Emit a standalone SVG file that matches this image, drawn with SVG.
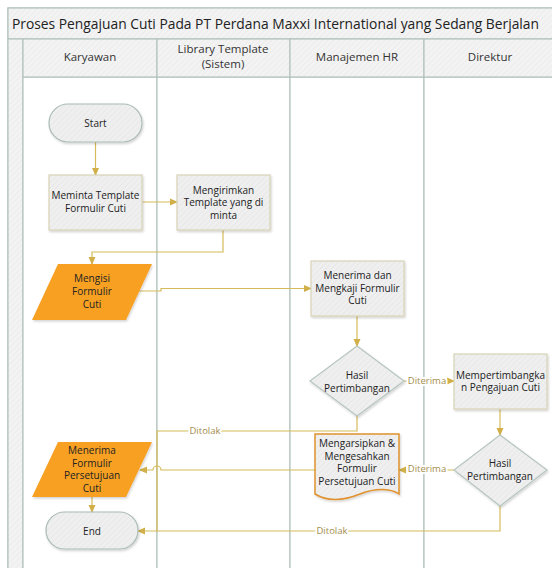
<svg xmlns="http://www.w3.org/2000/svg" width="552" height="568" viewBox="0 0 552 568">
  <defs>
    <pattern id="hatch" width="4" height="4" patternUnits="userSpaceOnUse" patternTransform="rotate(45)">
      <rect width="4" height="4" fill="#efefef"/>
      <line x1="0" y1="0" x2="0" y2="4" stroke="#e4e4e4" stroke-width="1.2"/>
    </pattern>
    <pattern id="hatchLight" width="4" height="4" patternUnits="userSpaceOnUse" patternTransform="rotate(45)">
      <rect width="4" height="4" fill="#f3f3f3"/>
      <line x1="0" y1="0" x2="0" y2="4" stroke="#e8e8e8" stroke-width="1.2"/>
    </pattern>
    <filter id="shadow" x="-10%" y="-10%" width="130%" height="130%">
      <feDropShadow dx="1" dy="1.5" stdDeviation="1" flood-color="#000" flood-opacity="0.18"/>
    </filter>
    <marker id="arrow" viewBox="0 0 8 8" refX="7" refY="4" markerWidth="8" markerHeight="8" markerUnits="userSpaceOnUse" orient="auto">
      <path d="M0,0.5 L8,4 L0,7.5 Z" fill="#d1b04a"/>
    </marker>
    <style>
      .lane { fill: #ffffff; stroke: #b3c4bc; stroke-width: 1.2; }
      .head { fill: url(#hatchLight); stroke: #b3c4bc; stroke-width: 1.2; }
      .title { font-family: "Open Sans", "Noto Sans", sans-serif; font-size: 14px; fill: #222; }
      .htext { font-family: "Open Sans", "Noto Sans", sans-serif; font-size: 11.5px; fill: #333; text-anchor: middle; }
      .box { fill: url(#hatch); stroke: #d8d2b6; stroke-width: 1.2; filter: url(#shadow); }
      .term { fill: url(#hatch); stroke: #aabcb4; stroke-width: 1.2; filter: url(#shadow); }
      .dia { fill: url(#hatch); stroke: #b6c6bf; stroke-width: 1.2; filter: url(#shadow); }
      .io { fill: #f7a024; stroke: none; filter: url(#shadow); }
      .doc { fill: url(#hatch); stroke: #e0922e; stroke-width: 1.5; filter: url(#shadow); }
      .ntext { font-family: "Open Sans", "Noto Sans", sans-serif; font-size: 10px; fill: #222; text-anchor: middle; }
      .conn { fill: none; stroke: #d6bb5a; stroke-width: 1.2; }
      .lbl { font-family: "Open Sans", "Noto Sans", sans-serif; font-size: 9.5px; fill: #a38d4c; text-anchor: middle; dominant-baseline: middle; stroke: #ffffff; stroke-width: 4; paint-order: stroke; }
    </style>
  </defs>

  <!-- pool frame -->
  <g id="pool">
    <rect x="8" y="8" width="560" height="570" fill="#ffffff" stroke="#b3c4bc" stroke-width="1.2"/>
    <rect x="8" y="8" width="560" height="31" class="head"/>
    <text x="12" y="28.5" class="title" textLength="527" lengthAdjust="spacingAndGlyphs">Proses Pengajuan Cuti Pada PT Perdana Maxxi International yang Sedang Berjalan</text>
    <rect x="8" y="39" width="15" height="540" class="head"/>
  </g>

  <!-- lanes -->
  <g id="lane-karyawan">
    <rect x="23" y="77" width="134" height="500" class="lane"/>
    <rect x="23" y="39" width="134" height="38" class="head"/>
    <text x="90" y="61" class="htext">Karyawan</text>
  </g>
  <g id="lane-library">
    <rect x="157" y="77" width="133" height="500" class="lane"/>
    <rect x="157" y="39" width="133" height="38" class="head"/>
    <text x="223" y="53" class="htext">Library Template</text>
    <text x="223" y="68" class="htext">(Sistem)</text>
  </g>
  <g id="lane-hr">
    <rect x="290" y="77" width="134" height="500" class="lane"/>
    <rect x="290" y="39" width="134" height="38" class="head"/>
    <text x="357" y="61" class="htext">Manajemen HR</text>
  </g>
  <g id="lane-direktur">
    <rect x="424" y="77" width="144" height="500" class="lane"/>
    <rect x="424" y="39" width="144" height="38" class="head"/>
    <text x="490" y="61" class="htext">Direktur</text>
  </g>

  <!-- connectors -->
  <g id="connectors">
    <path class="conn" d="M95.5,142 V175" marker-end="url(#arrow)"/>
    <path class="conn" d="M142,202 H177" marker-end="url(#arrow)"/>
    <path class="conn" d="M223,230 V252 H92 V264" marker-end="url(#arrow)"/>
    <path class="conn" d="M139,291 H161 V288.5 H311" marker-end="url(#arrow)"/>
    <path class="conn" d="M357,316 V346" marker-end="url(#arrow)"/>
    <path class="conn" d="M404,381 H454" marker-end="url(#arrow)"/>
    <path class="conn" d="M500,409 V435" marker-end="url(#arrow)"/>
    <path class="conn" d="M454,470 H399" marker-end="url(#arrow)"/>
    <path class="conn" d="M315,470 H161 A4,4 0 0 0 153,470 H140" marker-end="url(#arrow)"/>
    <path class="conn" d="M357,416 V431 H157 V531 H138" marker-end="url(#arrow)"/>
    <path class="conn" d="M500,506 V531 H157"/>
    <path class="conn" d="M92,497 V512" marker-end="url(#arrow)"/>
    <text x="427" y="381" class="lbl">Diterima</text>
    <text x="427" y="469.5" class="lbl">Diterima</text>
    <text x="205" y="431" class="lbl">Ditolak</text>
    <text x="332" y="531" class="lbl">Ditolak</text>
  </g>

  <!-- nodes -->
  <g id="start">
    <rect x="49" y="104" width="93" height="38" rx="19" class="term"/>
    <text x="95.5" y="127" class="ntext">Start</text>
  </g>
  <g id="meminta-template">
    <rect x="49" y="175" width="93" height="55" class="box"/>
    <text x="95.5" y="199" class="ntext">Meminta Template</text>
    <text x="95.5" y="212" class="ntext">Formulir Cuti</text>
  </g>
  <g id="mengirimkan-template">
    <rect x="177" y="175" width="93" height="55" class="box"/>
    <text x="223.5" y="193.5" class="ntext">Mengirimkan</text>
    <text x="223.5" y="206" class="ntext">Template yang di</text>
    <text x="223.5" y="218.5" class="ntext">minta</text>
  </g>
  <g id="mengisi-formulir">
    <polygon points="58,264 152,264 126,320 32,320" class="io"/>
    <text x="92" y="282" class="ntext">Mengisi</text>
    <text x="92" y="295" class="ntext">Formulir</text>
    <text x="92" y="308" class="ntext">Cuti</text>
  </g>
  <g id="menerima-mengkaji">
    <rect x="311" y="261" width="93" height="55" class="box"/>
    <text x="357.5" y="279" class="ntext">Menerima dan</text>
    <text x="357.5" y="291.5" class="ntext">Mengkaji Formulir</text>
    <text x="357.5" y="304" class="ntext">Cuti</text>
  </g>
  <g id="hasil-pertimbangan-hr">
    <polygon points="357,346 404,381 357,416 310,381" class="dia"/>
    <text x="357" y="379" class="ntext">Hasil</text>
    <text x="357" y="392" class="ntext">Pertimbangan</text>
  </g>
  <g id="mempertimbangkan">
    <rect x="454" y="354" width="93" height="55" class="box"/>
    <text x="500.5" y="378.5" class="ntext">Mempertimbangka</text>
    <text x="500.5" y="391" class="ntext">n Pengajuan Cuti</text>
  </g>
  <g id="hasil-pertimbangan-direktur">
    <polygon points="500,435 547,470 500,506 454,470" class="dia"/>
    <text x="500" y="467" class="ntext">Hasil</text>
    <text x="500" y="480" class="ntext">Pertimbangan</text>
  </g>
  <g id="mengarsipkan">
    <path d="M315,434 H399 V494 C390,488 375,488 360,494 C345,500 328,502 315,494 Z" class="doc"/>
    <text x="357" y="447" class="ntext">Mengarsipkan &amp;</text>
    <text x="357" y="459.5" class="ntext">Mengesahkan</text>
    <text x="357" y="472" class="ntext">Formulir</text>
    <text x="357" y="484.5" class="ntext">Persetujuan Cuti</text>
  </g>
  <g id="menerima-persetujuan">
    <polygon points="58,442 152,442 126,497 32,497" class="io"/>
    <text x="92" y="454" class="ntext">Menerima</text>
    <text x="92" y="466.5" class="ntext">Formulir</text>
    <text x="92" y="479" class="ntext">Persetujuan</text>
    <text x="92" y="491.5" class="ntext">Cuti</text>
  </g>
  <g id="end">
    <rect x="46" y="512" width="92" height="37" rx="18.5" class="term"/>
    <text x="92" y="534.5" class="ntext">End</text>
  </g>
</svg>
